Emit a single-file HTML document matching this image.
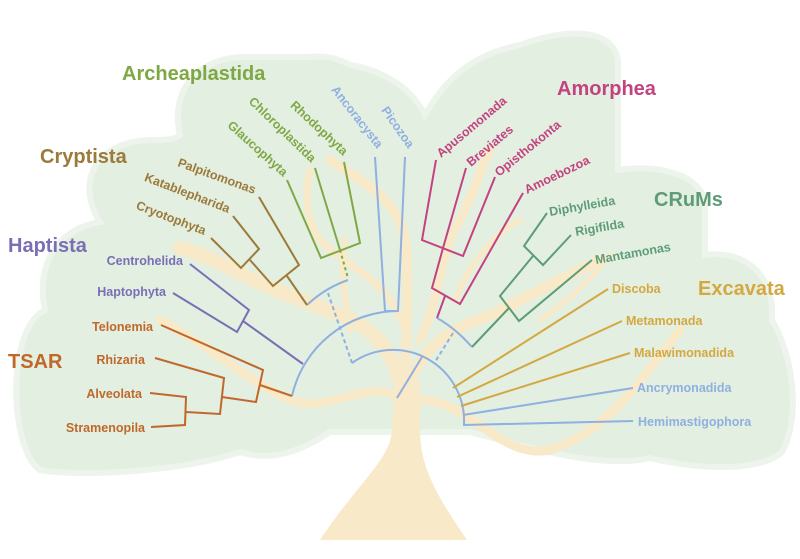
<!DOCTYPE html>
<html><head><meta charset="utf-8"><style>
html,body{margin:0;padding:0;background:#fff;}
svg{display:block;}
text{font-family:"Liberation Sans",sans-serif;font-weight:bold;}
.s{font-size:12.5px;}
.h{font-size:20px;}
</style></head><body>
<svg width="800" height="559" viewBox="0 0 800 559" xmlns="http://www.w3.org/2000/svg">
<!-- cloud -->
<path d="M40,470 C10,450 5,330 45,310 C35,262 60,228 100,222 C75,182 95,142 150,140 C165,140 175,140 180,135 C170,92 195,60 240,57 L310,57 C330,55 340,60 350,65 C380,70 410,85 425,115 C445,80 470,55 520,45 C560,30 612,25 618,60 L618,170 C650,165 695,170 705,200 L705,255 C740,250 775,270 772,320 C795,360 800,420 782,452 C760,472 700,470 650,458 C600,470 520,445 470,432 L330,432 C300,452 270,462 240,452 C180,472 80,477 40,470 Z" fill="#e3efe1" stroke="#edf4ec" stroke-width="6"/>
<!-- trunk & branches -->
<g fill="none" stroke="#f8e9c8" stroke-linecap="round">
<path d="M320,540 C360,480 390,460 392,430 L395,380 L420,380 L420,430 C420,470 440,500 467,540 Z" fill="#f8e9c8" stroke="none"/>
<path d="M405,410 C400,360 380,330 340,315 C300,300 260,285 230,268 C210,258 195,252 180,248" stroke-width="14"/>
<path d="M395,395 C360,380 320,420 280,395 C240,375 200,340 160,320" stroke-width="9"/>
<path d="M405,400 C405,340 410,290 405,240 C400,200 360,180 330,160" stroke-width="10"/>
<path d="M405,330 C390,280 350,270 320,240 C305,220 305,190 310,170" stroke-width="7"/>
<path d="M410,380 C440,320 470,330 520,300 C560,280 580,270 600,260" stroke-width="11"/>
<path d="M420,340 C440,300 440,250 460,220 C475,190 480,170 490,150" stroke-width="9"/>
<path d="M420,400 C470,400 500,460 550,450 C610,430 640,380 680,330" stroke-width="9"/>
<path d="M455,300 C470,260 500,230 520,220" stroke-width="6"/>
<path d="M540,320 C570,300 590,280 610,255" stroke-width="5"/>
<path d="M350,330 C345,300 340,270 345,240" stroke-width="6"/>
</g>
<!-- tree lines -->
<g fill="none" stroke-width="2" stroke-linejoin="miter">
<!-- blue backbone -->
<g stroke="#8fb0e0">
<path d="M292,396 A109,109 0 0 1 398,311"/>
<path d="M352,363 A71,71 0 0 1 464,424"/>
<path d="M307,305 Q325,288 348,280"/>
<path d="M437,318 Q455,328 472,347"/>
<path d="M375,157 L385,311 L398,311 L405,157"/>
<path d="M422,357 L397,398"/>
<path d="M633,388 L463,415"/>
<path d="M633,421 L463,425"/>
<path d="M328,293 L352,363 M453,333 L435,362" stroke-dasharray="4,3"/>
</g>
<!-- green archeplastida -->
<g stroke="#7fa845">
<path d="M287,180 L321,258 L360,243 L344,162 M315,168 L340,250"/>
<path d="M340,250 L348,278" stroke-dasharray="3,3"/>
</g>
<!-- brown cryptista -->
<g stroke="#9b7a3a">
<path d="M211,238 L241,268 L259,249 L233,216 M250,260 L273,286 L299,265 L259,197 M287,276 L307,305"/>
</g>
<!-- purple -->
<g stroke="#7a6fb5">
<path d="M190,264 L249,310 L237,332 L173,293 M243,321 L303,364"/>
</g>
<!-- orange -->
<g stroke="#c0682a">
<path d="M151,427 L185,425 L186,397 L150,393 M186,412 L220,414 L224,378 L155,358 M222,397 L256,402 L263,370 L161,325 M260,385 L292,396"/>
</g>
<!-- magenta -->
<g stroke="#c2437f">
<path d="M436,160 L422,240 L463,256 L495,177 M466,168 L443,248 L432,288 L460,304 L523,193 M445,296 L437,318"/>
</g>
<!-- CRuMs -->
<g stroke="#5e9c78">
<path d="M547,213 L524,246 L543,265 L571,235 M533,256 L500,296 L519,321 L592,260 M509,308 L472,347"/>
</g>
<!-- excavata gold -->
<g stroke="#d4a840">
<path d="M608,289 L453,388 M622,321 L457,397 M630,353 L461,406"/>
</g>
</g>
<!-- group labels -->
<text class="h" x="122" y="80" fill="#7fa845">Archeaplastida</text>
<text class="h" x="557" y="95" fill="#c2437f">Amorphea</text>
<text class="h" x="40" y="163" fill="#9b7a3a">Cryptista</text>
<text class="h" x="8" y="252" fill="#7a6fb5">Haptista</text>
<text class="h" x="8" y="368" fill="#c0682a">TSAR</text>
<text class="h" x="654" y="206" fill="#5e9c78">CRuMs</text>
<text class="h" x="698" y="295" fill="#d4a840">Excavata</text>
<!-- rotated top labels -->
<g class="s" text-anchor="end">
<text transform="translate(283,177) rotate(42)" fill="#7fa845">Glaucophyta</text>
<text transform="translate(311,163) rotate(44)" fill="#7fa845">Chloroplastida</text>
<text transform="translate(343,156) rotate(43)" fill="#7fa845">Rhodophyta</text>
<text transform="translate(377,149) rotate(52)" fill="#8fb0e0">Ancoracysta</text>
<text transform="translate(408,149) rotate(55)" fill="#8fb0e0">Picozoa</text>
<text transform="translate(254,194) rotate(20)" fill="#9b7a3a">Palpitomonas</text>
<text transform="translate(228,213) rotate(21)" fill="#9b7a3a">Katablepharida</text>
<text transform="translate(204,235) rotate(21)" fill="#9b7a3a">Cryotophyta</text>
</g>
<g class="s">
<text transform="translate(441,158) rotate(-40)" fill="#c2437f">Apusomonada</text>
<text transform="translate(471,167) rotate(-40)" fill="#c2437f">Breviates</text>
<text transform="translate(499,177) rotate(-39)" fill="#c2437f">Opisthokonta</text>
<text transform="translate(527,194) rotate(-26)" fill="#c2437f">Amoebozoa</text>
<text transform="translate(550,216) rotate(-10)" fill="#5e9c78">Diphylleida</text>
<text transform="translate(576,236) rotate(-10)" fill="#5e9c78">Rigifilda</text>
<text transform="translate(596,264) rotate(-10)" fill="#5e9c78">Mantamonas</text>
<text x="612" y="293" fill="#d4a840">Discoba</text>
<text x="626" y="325" fill="#d4a840">Metamonada</text>
<text x="634" y="357" fill="#d4a840">Malawimonadida</text>
<text x="637" y="392" fill="#8fb0e0">Ancrymonadida</text>
<text x="638" y="426" fill="#8fb0e0">Hemimastigophora</text>
</g>
<g class="s" text-anchor="end">
<text x="183" y="265" fill="#7a6fb5">Centrohelida</text>
<text x="166" y="296" fill="#7a6fb5">Haptophyta</text>
<text x="153" y="331" fill="#c0682a">Telonemia</text>
<text x="145" y="364" fill="#c0682a">Rhizaria</text>
<text x="142" y="398" fill="#c0682a">Alveolata</text>
<text x="145" y="432" fill="#c0682a">Stramenopila</text>
</g>
</svg>
</body></html>
